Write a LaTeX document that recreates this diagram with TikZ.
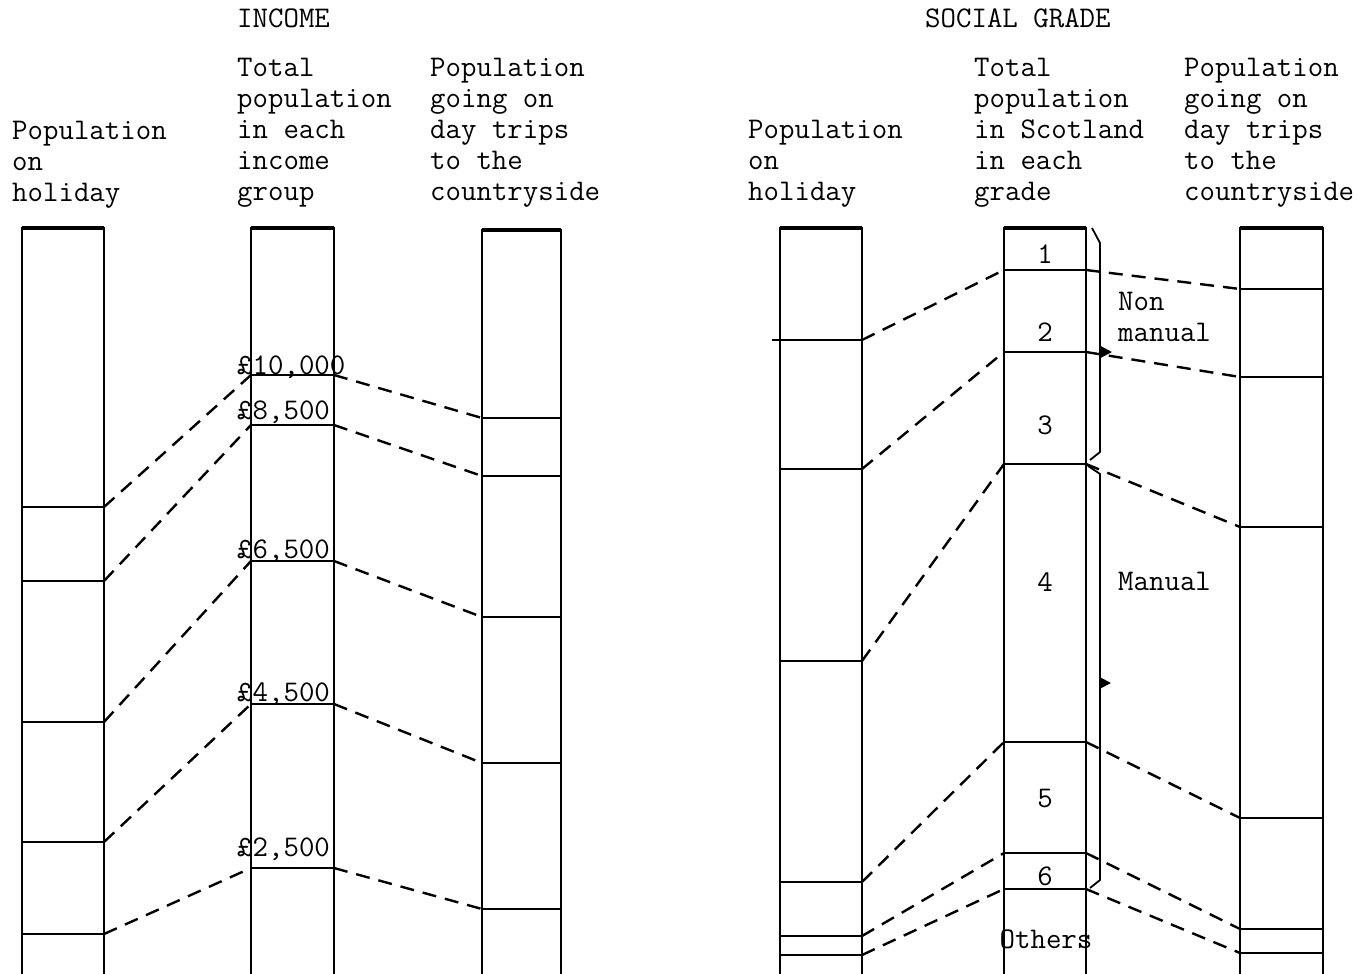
\documentclass[tikz,border=0pt]{standalone}
\usepackage{fontspec}
\usetikzlibrary{arrows.meta}

\begin{document}
\begin{tikzpicture}[x=1pt,y=-1pt,
  bar/.style={line width=2.6pt},
  topedge/.style={line width=3.4pt},
  divider/.style={line width=2.6pt},
  link/.style={line width=2.4pt,dash pattern=on 14pt off 9pt},
  brace/.style={line width=1.8pt,line join=round},
  txt/.style={font=\ttfamily\fontsize{30}{31}\selectfont,inner sep=0pt,anchor=base west,align=left},
  num/.style={font=\ttfamily\fontsize{30}{31}\selectfont,inner sep=0pt,anchor=base}]
\useasboundingbox (0,0) rectangle (1363,974);

% headings (anchored at the baseline of the last line)
\node[txt] (inc) at (237,28) {INCOME};
\node[txt] (soc) at (925,28) {SOCIAL GRADE};
\node[txt] (hA) at (12,201) {Population\\on\\holiday};
\node[txt] (hB) at (237,200) {Total\\population\\in each\\income\\group};
\node[txt] (hC) at (430,200) {Population\\going on\\day trips\\to the\\countryside};
\node[txt] (hD) at (748,200) {Population\\on\\holiday};
\node[txt] (hE) at (974,200) {Total\\population\\in Scotland\\in each\\grade};
\node[txt] (hF) at (1184,200) {Population\\going on\\day trips\\to the\\countryside};

% income bars
\draw[bar] (22,974) -- (22,228) -- (104,228) -- (104,974);
\draw[topedge] (22,228) -- (104,228);
\draw[bar] (251,974) -- (251,228) -- (334,228) -- (334,974);
\draw[topedge] (251,228) -- (334,228);
\draw[bar] (482,974) -- (482,230) -- (561,230) -- (561,974);
\draw[topedge] (482,230) -- (561,230);

\draw[divider] (22,507) -- (104,507) coordinate (a1);
\draw[divider] (22,581) -- (104,581) coordinate (a2);
\draw[divider] (22,722) -- (104,722) coordinate (a3);
\draw[divider] (22,842) -- (104,842) coordinate (a4);
\draw[divider] (22,934) -- (104,934) coordinate (a5);

\draw[divider] (251,375) coordinate (b1l) -- (334,375) coordinate (b1r);
\draw[divider] (251,425) coordinate (b2l) -- (334,425) coordinate (b2r);
\draw[divider] (251,561) coordinate (b3l) -- (334,561) coordinate (b3r);
\draw[divider] (251,704) coordinate (b4l) -- (334,704) coordinate (b4r);
\draw[divider] (251,868) coordinate (b5l) -- (334,868) coordinate (b5r);

\draw[divider] (482,418) coordinate (c1) -- (561,418);
\draw[divider] (482,476) coordinate (c2) -- (561,476);
\draw[divider] (482,617) coordinate (c3) -- (561,617);
\draw[divider] (482,763) coordinate (c4) -- (561,763);
\draw[divider] (482,909) coordinate (c5) -- (561,909);

\node[txt] (p1) at (237,374) {£10,000};
\node[txt] (p2) at (237,419) {£8,500};
\node[txt] (p3) at (237,558) {£6,500};
\node[txt] (p4) at (237,701) {£4,500};
\node[txt] (p5) at (237,856) {£2,500};

\draw[link] (a1) -- (b1l);
\draw[link] (a2) -- (b2l);
\draw[link] (a3) -- (b3l);
\draw[link] (a4) -- (b4l);
\draw[link] (a5) -- (b5l);
\draw[link] (b1r) -- (c1);
\draw[link] (b2r) -- (c2);
\draw[link] (b3r) -- (c3);
\draw[link] (b4r) -- (c4);
\draw[link] (b5r) -- (c5);

% social grade bars
\draw[bar] (780,974) -- (780,228) -- (862,228) -- (862,974);
\draw[topedge] (780,228) -- (862,228);
\draw[bar] (1004,974) -- (1004,228) -- (1086,228) -- (1086,974);
\draw[topedge] (1004,228) -- (1086,228);
\draw[bar] (1240,974) -- (1240,228) -- (1323,228) -- (1323,974);
\draw[topedge] (1240,228) -- (1323,228);

\draw[divider] (772,340) -- (862,340) coordinate (d1);
\draw[divider] (780,469) -- (862,469) coordinate (d2);
\draw[divider] (780,661) -- (862,661) coordinate (d3);
\draw[divider] (780,882) -- (862,882) coordinate (d4);
\draw[divider] (780,936) -- (862,936) coordinate (d5);
\draw[divider] (780,955) -- (862,955) coordinate (d6);

\draw[divider] (1004,270) coordinate (e1l) -- (1086,270) coordinate (e1r);
\draw[divider] (1004,352) coordinate (e2l) -- (1086,352) coordinate (e2r);
\draw[divider] (1004,464) coordinate (e3l) -- (1086,464) coordinate (e3r);
\draw[divider] (1004,742) coordinate (e4l) -- (1086,742) coordinate (e4r);
\draw[divider] (1004,853) coordinate (e5l) -- (1086,853) coordinate (e5r);
\draw[divider] (1004,889) coordinate (e6l) -- (1086,889) coordinate (e6r);

\draw[divider] (1240,289) coordinate (f1) -- (1323,289);
\draw[divider] (1240,377) coordinate (f2) -- (1323,377);
\draw[divider] (1240,527) coordinate (f3) -- (1323,527);
\draw[divider] (1240,818) coordinate (f4) -- (1323,818);
\draw[divider] (1240,929) coordinate (f5) -- (1323,929);
\draw[divider] (1240,953) coordinate (f6) -- (1323,953);

\node[num] (g1) at (1045,263) {1};
\node[num] (g2) at (1045,341) {2};
\node[num] (g3) at (1045,434) {3};
\node[num] (g4) at (1045,591) {4};
\node[num] (g5) at (1045,807) {5};
\node[num] (g6) at (1045,885) {6};
\node[num] (g7) at (1046,948) {Others};

\draw[link] (d1) -- (e1l);
\draw[link] (d2) -- (e2l);
\draw[link] (d3) -- (e3l);
\draw[link] (d4) -- (e4l);
\draw[link] (d5) -- (e5l);
\draw[link] (d6) -- (e6l);
\draw[link] (e1r) -- (f1);
\draw[link] (e2r) -- (f2);
\draw[link] (e3r) -- (f3);
\draw[link] (e4r) -- (f4);
\draw[link] (e5r) -- (f5);
\draw[link] (e6r) -- (f6);

% brackets
\draw[brace] (1092,228) -- (1100,243) -- (1100,452) -- (1090,460);
\draw[brace] (1088,466) -- (1100,474) -- (1100,880) -- (1090,888);
\coordinate (nm) at (1100,352);
\coordinate (mn) at (1102,683);
\draw[-{Triangle[length=11pt,width=11pt]},line width=2pt] (nm) -- ++(12,0);
\draw[-{Triangle[length=11pt,width=11pt]},line width=2pt] (mn) -- ++(9,0);
\node[txt] (nmt) at (1118,341) {Non\\manual};
\node[txt] (mt) at (1118,590) {Manual};
\end{tikzpicture}
\end{document}
